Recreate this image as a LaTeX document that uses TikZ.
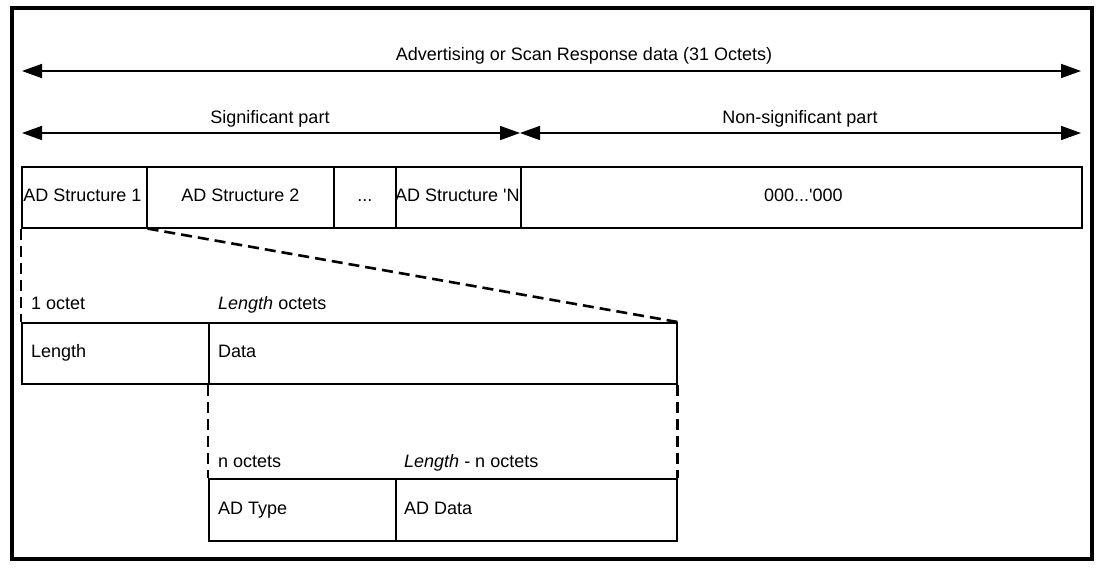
\documentclass[tikz,border=0pt]{standalone}
\usepackage{fontspec}
\setmainfont{Liberation Sans}[Ligatures=TeXOff]
\usetikzlibrary{arrows.meta}
\begin{document}
\begin{tikzpicture}[x=1pt,y=-1pt,
  every node/.style={font=\fontsize{18}{21}\selectfont, text=black, text height=13pt, text depth=4pt},
  box/.style={draw=black, line width=1.6pt, anchor=north west, inner sep=0pt},
  lbl/.style={anchor=west, inner sep=0pt},
  dimarrow/.style={line width=1.6pt, {Triangle[length=20pt,width=14pt]}-{Triangle[length=20pt,width=14pt]}},
  dashline/.style={line width=2.6pt, dash pattern=on 11pt off 6pt}
]
\useasboundingbox (0,0) rectangle (1103,568);
\draw[line width=4pt] (11.5,7.5) rectangle (1091.5,559);

% top arrows
\coordinate (a1l) at (22,71);
\coordinate (a1r) at (1081,71);
\draw[dimarrow] (a1l) -- (a1r);
\node (t1) at (584,56) {Advertising or Scan Response data (31 Octets)};

\coordinate (a2l) at (22,133);
\coordinate (a2m) at (520,133);
\coordinate (a2r) at (1081,133);
\draw[dimarrow] (a2l) -- (a2m);
\draw[dimarrow] (a2m) -- (a2r);
\node (t2) at (270,119) {Significant part};
\node (t3) at (800,119) {Non-significant part};

% first row
\node[box, minimum width=125, minimum height=61] (s1) at (21,166) {};
\node[box, minimum width=187, minimum height=61] (s2) at (146,166) {};
\node[box, minimum width=62, minimum height=61] (s3) at (333,166) {};
\node[box, minimum width=125, minimum height=61] (sn) at (395,166) {};
\node[box, minimum width=561, minimum height=61] (z) at (520,166) {};
\node at ([xshift=-2]s1.center) {AD Structure 1};
\node at (s2.center) {AD Structure 2};
\node at (s3.center) {...};
\node at ([xshift=-1]sn.center) {AD Structure 'N};
\node at ([xshift=2]z.center) {000...'000};

% second row
\node[box, minimum width=187, minimum height=61] (len) at (21,322) {};
\node[box, minimum width=468, minimum height=61] (data) at (208,322) {};
\node[lbl] at ([xshift=10]len.west) {Length};
\node[lbl] at ([xshift=10]data.west) {Data};
\node[lbl] at (31,305) {1 octet};
\node[lbl] at (218,305) {\textit{Length} octets};

% third row
\node[box, minimum width=187, minimum height=62] (adt) at (208,478) {};
\node[box, minimum width=281, minimum height=62] (add) at (395,478) {};
\node[lbl] at ([xshift=10]adt.west) {AD Type};
\node[lbl] at ([xshift=9]add.west) {AD Data};
\node[lbl] at (218,463) {n octets};
\node[lbl] at (404,463) {\textit{Length} - n octets};

% dashed connectors
\draw[dashline] (s1.south west) -- (len.north west);
\draw[dashline] (s1.south east) -- (data.north east);
\draw[dashline] (data.south west) -- (adt.north west);
\draw[dashline] (data.south east) -- (add.north east);
\end{tikzpicture}
\end{document}
